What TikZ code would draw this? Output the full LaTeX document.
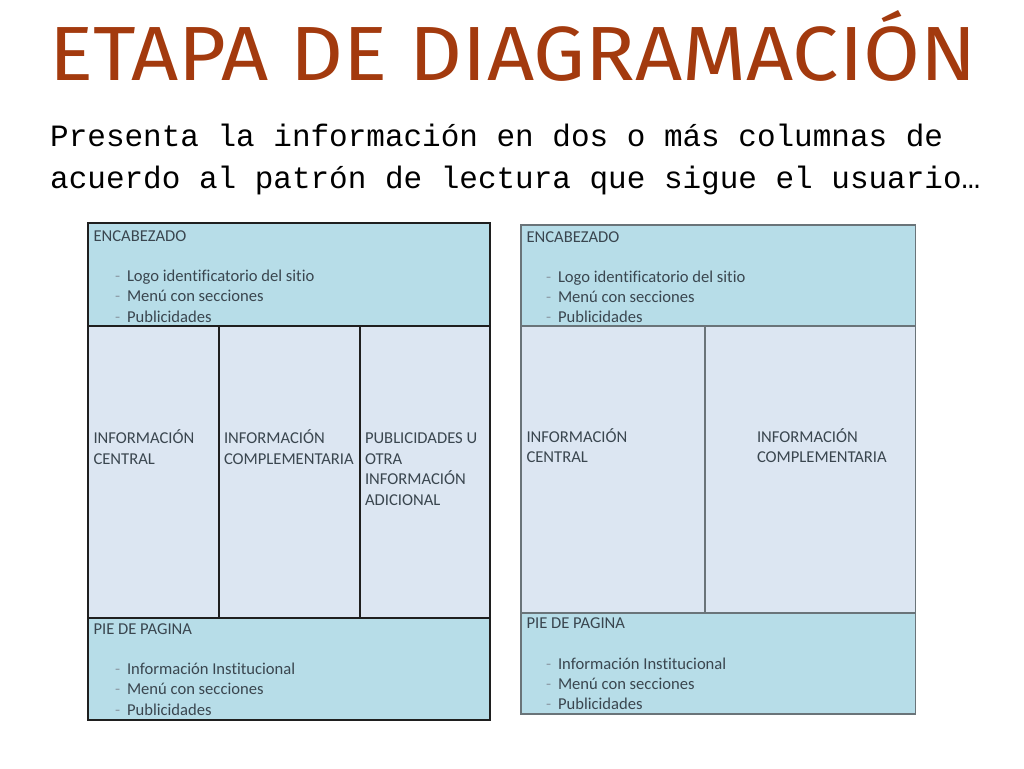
\documentclass[tikz,border=0pt]{standalone}
\usepackage{fontspec}
\setmainfont{Carlito}[Ligatures={NoCommon}]
\newfontfamily\titlefont{Fira Sans}
\newfontfamily\subfont{Liberation Mono}
\definecolor{titlered}{HTML}{A33A0E}
\definecolor{hdrblue}{HTML}{B7DDE8}
\definecolor{midblue}{HTML}{DCE6F2}
\definecolor{boxtext}{HTML}{3A464F}
\definecolor{dashgray}{HTML}{8C9BA5}
\definecolor{rightline}{HTML}{6A7479}
\newcommand{\dashitem}[1]{\makebox[12pt][l]{\textcolor{dashgray}{-}}#1}
\begin{document}
\begin{tikzpicture}[x=1pt,y=-1pt,
  lbl/.style={anchor=base west,inner sep=0pt,outer sep=0pt,text=boxtext,font=\fontsize{16.6}{20.5}\selectfont},
  leftline/.style={draw=black!88,line width=1.4pt},
  rline/.style={draw=rightline,line width=1.8pt}]
\fill[white] (0,0) rectangle (1024,768);
\useasboundingbox (0,0) rectangle (1024,768);

% title and subtitle
\node[anchor=base west,inner sep=0pt,text=titlered] (title) at (49,81)
  {\resizebox{927pt}{70pt}{\titlefont ETAPA DE DIAGRAMACIÓN}};
\node[anchor=base west,inner sep=0pt,font=\subfont\fontsize{31}{36}\selectfont] (sub1) at (50,146)
  {Presenta la información en dos o más columnas de};
\node[anchor=base west,inner sep=0pt,font=\subfont\fontsize{31}{36}\selectfont] (sub2) at (50,188)
  {acuerdo al patrón de lectura que sigue el usuario…};

% ---------- left layout ----------
\fill[hdrblue] (88,223) rectangle (490,326);
\fill[midblue] (88,326) rectangle (490,618);
\fill[hdrblue] (88,618) rectangle (490,720);
\draw[leftline] (88,326) -- (490,326);
\draw[leftline] (88,618) -- (490,618);
\draw[leftline] (219,326) -- (219,618);
\draw[leftline] (360,326) -- (360,618);
\draw[leftline] (88,223) rectangle (490,720);

\node[lbl] (lhead) at (93.5,241) {ENCABEZADO};
\node[lbl] (lh1) at (115,281) {\dashitem{Logo identificatorio del sitio}};
\node[lbl] (lh2) at (115,301.5) {\dashitem{Menú con secciones}};
\node[lbl] (lh3) at (115,322) {\dashitem{Publicidades}};

\node[lbl] (lc1a) at (93.5,443.5) {INFORMACIÓN};
\node[lbl] (lc1b) at (93.5,464) {CENTRAL};
\node[lbl] (lc2a) at (224,443.5) {INFORMACIÓN};
\node[lbl] (lc2b) at (224,464) {COMPLEMENTARIA};
\node[lbl] (lc3a) at (365,443.5) {PUBLICIDADES U};
\node[lbl] (lc3b) at (365,464) {OTRA};
\node[lbl] (lc3c) at (365,484.5) {INFORMACIÓN};
\node[lbl] (lc3d) at (365,505) {ADICIONAL};

\node[lbl] (lfoot) at (93.5,634) {PIE DE PAGINA};
\node[lbl] (lf1) at (115,674) {\dashitem{Información Institucional}};
\node[lbl] (lf2) at (115,694.5) {\dashitem{Menú con secciones}};
\node[lbl] (lf3) at (115,715) {\dashitem{Publicidades}};

% ---------- right layout ----------
\fill[hdrblue] (521,225) rectangle (915.5,326);
\fill[midblue] (521,326) rectangle (915.5,613);
\fill[hdrblue] (521,613) rectangle (915.5,714);
\draw[rline] (521,326) -- (915.5,326);
\draw[rline] (521,613) -- (915.5,613);
\draw[rline] (705,326) -- (705,613);
\draw[rline] (521,225) rectangle (915.5,714);

\node[lbl] (rhead) at (526.5,242) {ENCABEZADO};
\node[lbl] (rh1) at (546,282) {\dashitem{Logo identificatorio del sitio}};
\node[lbl] (rh2) at (546,302) {\dashitem{Menú con secciones}};
\node[lbl] (rh3) at (546,322) {\dashitem{Publicidades}};

\node[lbl] (rc1a) at (526.5,442) {INFORMACIÓN};
\node[lbl] (rc1b) at (526.5,462.5) {CENTRAL};
\node[lbl] (rc2a) at (757,442) {INFORMACIÓN};
\node[lbl] (rc2b) at (757,462.5) {COMPLEMENTARIA};

\node[lbl] (rfoot) at (526.5,628) {PIE DE PAGINA};
\node[lbl] (rf1) at (546,669) {\dashitem{Información Institucional}};
\node[lbl] (rf2) at (546,689) {\dashitem{Menú con secciones}};
\node[lbl] (rf3) at (546,709) {\dashitem{Publicidades}};
\end{tikzpicture}
\end{document}
